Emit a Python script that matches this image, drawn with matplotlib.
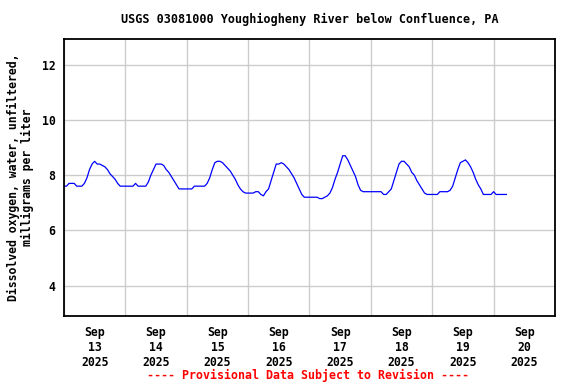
import numpy as np
import pandas as pd
import matplotlib
matplotlib.use('Agg')
import matplotlib.pyplot as plt
import matplotlib.dates as mdates

# hourly dissolved oxygen (mg/L), one list per day
sep13 = [7.6, 7.6, 7.7, 7.7, 7.7, 7.6, 7.6, 7.6, 7.7, 7.9, 8.2, 8.4,
         8.5, 8.4, 8.4, 8.35, 8.3, 8.2, 8.05, 7.95, 7.85, 7.7, 7.6, 7.6]
sep14 = [7.6, 7.6, 7.6, 7.6, 7.7, 7.6, 7.6, 7.6, 7.6, 7.75, 8.0, 8.2,
         8.4, 8.4, 8.4, 8.35, 8.2, 8.1, 7.95, 7.8, 7.65, 7.5, 7.5, 7.5]
sep15 = [7.5, 7.5, 7.5, 7.6, 7.6, 7.6, 7.6, 7.6, 7.7, 7.9, 8.2, 8.45,
         8.5, 8.5, 8.45, 8.35, 8.25, 8.15, 8.0, 7.85, 7.65, 7.5, 7.4, 7.35]
sep16 = [7.35, 7.35, 7.35, 7.4, 7.4, 7.3, 7.25, 7.4, 7.5, 7.8, 8.1, 8.4,
         8.4, 8.45, 8.4, 8.3, 8.2, 8.05, 7.9, 7.7, 7.5, 7.3, 7.2, 7.2]
sep17 = [7.2, 7.2, 7.2, 7.2, 7.15, 7.15, 7.2, 7.25, 7.35, 7.55, 7.85, 8.1,
         8.4, 8.7, 8.7, 8.55, 8.35, 8.15, 7.95, 7.65, 7.45, 7.4, 7.4, 7.4]
sep18 = [7.4, 7.4, 7.4, 7.4, 7.4, 7.3, 7.3, 7.4, 7.5, 7.8, 8.1, 8.4,
         8.5, 8.5, 8.4, 8.3, 8.1, 8.0, 7.8, 7.65, 7.5, 7.35, 7.3, 7.3]
sep19 = [7.3, 7.3, 7.3, 7.4, 7.4, 7.4, 7.4, 7.45, 7.6, 7.9, 8.2, 8.45,
         8.5, 8.55, 8.45, 8.3, 8.1, 7.85, 7.65, 7.5, 7.3, 7.3, 7.3, 7.3]
sep20 = [7.4, 7.3, 7.3, 7.3, 7.3, 7.3]

values = sep13 + sep14 + sep15 + sep16 + sep17 + sep18 + sep19 + sep20
times = pd.date_range('2025-09-13 00:00', periods=len(values), freq='h')

title = 'USGS 03081000 Youghiogheny River below Confluence, PA'
ylabel = 'Dissolved oxygen, water, unfiltered,\nmilligrams per liter'
footer = '---- Provisional Data Subject to Revision ----'

plt.rcParams['font.family'] = 'DejaVu Sans Mono'
plt.rcParams['font.weight'] = 'bold'

fig = plt.figure(figsize=(5.76, 3.84), dpi=100)
ax = fig.add_axes([0.111, 0.177, 0.8525, 0.721])

ax.plot(times, values, color='#0000ff', lw=0.9)

ax.set_xlim(pd.Timestamp('2025-09-13'), pd.Timestamp('2025-09-21'))
ax.set_ylim(2.9, 12.92)
ax.set_yticks([4, 6, 8, 10, 12])

# labels at noon, grid lines at midnight
ax.xaxis.set_major_locator(mdates.HourLocator(byhour=[12]))
ax.xaxis.set_major_formatter(mdates.DateFormatter('%b\n%d\n%Y'))
ax.xaxis.set_minor_locator(mdates.DayLocator())
ax.grid(True, which='minor', axis='x', color='#cccccc', lw=1)
ax.grid(True, which='major', axis='y', color='#cccccc', lw=1)
ax.set_axisbelow(True)

ax.tick_params(axis='both', which='both', length=0, labelsize=8.3)
ax.tick_params(axis='x', pad=7)
ax.tick_params(axis='y', pad=6)
for lab in ax.get_xticklabels() + ax.get_yticklabels():
    lab.set_fontweight('bold')
for sp in ax.spines.values():
    sp.set_linewidth(1.3)

ax.set_ylabel(ylabel, fontsize=8.3, fontweight='bold', labelpad=6, linespacing=1.0)
fig.text(0.538, 0.95, title, ha='center', va='center', fontsize=8.5, fontweight='bold')
fig.text(0.535, 0.022, footer, ha='center', va='center', fontsize=8.4,
         fontweight='bold', color='red')

fig.savefig('out.png', dpi=100)
